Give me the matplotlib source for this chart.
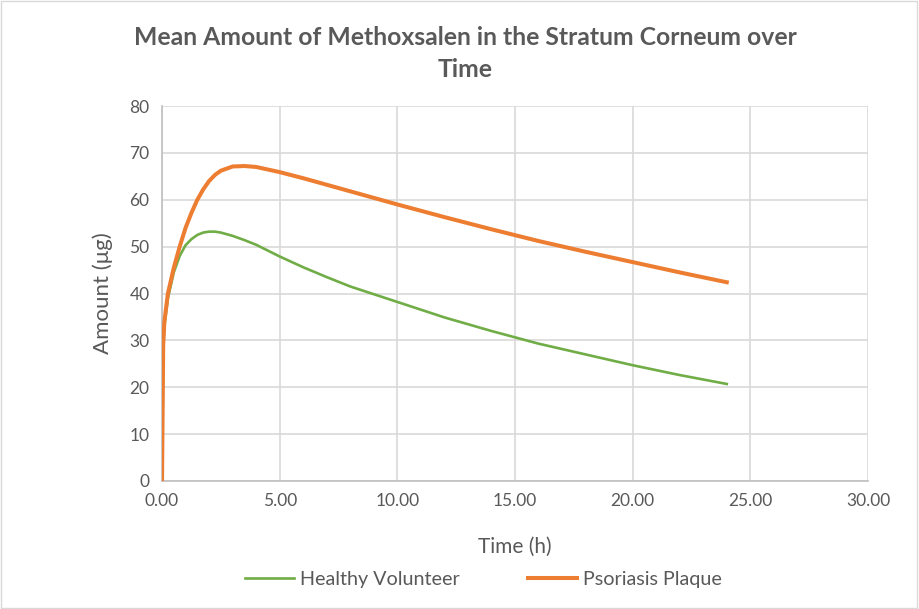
import matplotlib.pyplot as plt
from matplotlib.patches import Rectangle

# time points (h) and mean amounts (ug) in the stratum corneum
time_h = [0, 0.05, 0.1, 0.25, 0.5, 0.75, 1, 1.25, 1.5, 1.75, 2, 2.25, 2.5, 3, 3.5,
          4, 5, 6, 7, 8, 10, 12, 14, 16, 18, 20, 22, 24]
healthy = [0, 28, 33, 39, 44.5, 48, 50.3, 51.6, 52.5, 53, 53.2, 53.2, 53, 52.3,
           51.4, 50.4, 47.9, 45.6, 43.5, 41.5, 38.2, 34.9, 32, 29.3, 27, 24.7,
           22.6, 20.7]
psoriasis = [0, 29, 34, 40, 45.5, 50, 54, 57.2, 60, 62.2, 64, 65.3, 66.2, 67.1,
             67.2, 67, 65.9, 64.6, 63.2, 61.8, 59, 56.3, 53.7, 51.2, 48.9, 46.7,
             44.5, 42.4]
xticks = [0, 5, 10, 15, 20, 25, 30]
yticks = [0, 10, 20, 30, 40, 50, 60, 70, 80]

txt = '#595959'
plt.rcParams['font.family'] = ['Lato', 'DejaVu Sans']

fig = plt.figure(figsize=(9.19, 6.09), dpi=100)
ax = fig.add_axes([0.1763, 0.2102, 0.7682, 0.6157])

ax.plot(time_h, healthy, color='#70AD47', lw=1.9, label='Healthy Volunteer', zorder=3)
ax.plot(time_h, psoriasis, color='#ED7D31', lw=2.9, label='Psoriasis Plaque', zorder=4)

ax.set_xlim(0, 30)
ax.set_ylim(0, 80)
ax.set_xticks(xticks)
ax.set_xticklabels(['%.2f' % v for v in xticks])
ax.set_yticks(yticks)
ax.grid(True, color='#d9d9d9', lw=1.2)
ax.set_axisbelow(True)
for s in ['top', 'right']:
    ax.spines[s].set_visible(False)
for s in ['left', 'bottom']:
    ax.spines[s].set_color('#bfbfbf')
    ax.spines[s].set_linewidth(1.2)
ax.tick_params(length=0, labelsize=12.5, labelcolor=txt, pad=9)

ax.set_xlabel('Time (h)', fontsize=15, color=txt, labelpad=20)
ax.set_ylabel('Amount (μg)', fontsize=16, color=txt, labelpad=12)
fig.suptitle('Mean Amount of Methoxsalen in the Stratum Corneum over\nTime',
             x=0.506, y=0.957, fontsize=17.8, fontweight='bold', color=txt,
             linespacing=1.45)

leg = fig.legend(loc='center', bbox_to_anchor=(0.526, 0.049), ncol=2, frameon=False,
                 fontsize=14.2, handlelength=2.45, handletextpad=0.3,
                 columnspacing=3.5)
for t in leg.get_texts():
    t.set_color(txt)

fig.patches.append(Rectangle((0.001, 0.002), 0.997, 0.996, transform=fig.transFigure,
                             fill=False, ec='#d9d9d9', lw=1))

fig.savefig('out.png', dpi=100)
